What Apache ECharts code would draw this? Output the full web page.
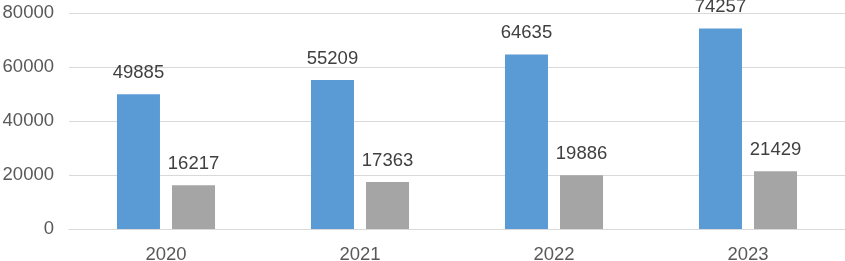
<!DOCTYPE html>
<html>
<head>
<meta charset="utf-8">
<script src="https://cdn.jsdelivr.net/npm/echarts@6/dist/echarts.min.js"></script>
<style>
html,body{margin:0;padding:0;background:#fff;}
#chart{width:845px;height:261px;}
</style>
</head>
<body>
<div id="chart"></div>
<script>
const categories = ['2020', '2021', '2022', '2023'];
const seriesA = [49885, 55209, 64635, 74257];
const seriesB = [16217, 17363, 19886, 21429];

const chart = echarts.init(document.getElementById('chart'), null, {renderer: 'canvas'});
const font = 'Liberation Sans, Arial, sans-serif';
const labelCfg = {
  show: true,
  position: 'top',
  distance: 12,
  color: '#404040',
  fontSize: 18.5,
  fontFamily: font
};
chart.setOption({
  animation: false,
  grid: {left: 69, right: 0, top: 13, bottom: 32, containLabel: false, outerBoundsMode: 'none'},
  xAxis: {
    type: 'category',
    data: categories,
    axisLine: {show: true, lineStyle: {color: '#D9D9D9', width: 1}},
    axisTick: {show: false},
    axisLabel: {color: '#595959', fontSize: 18.5, fontFamily: font, margin: 16}
  },
  yAxis: {
    type: 'value',
    min: 0,
    max: 80000,
    interval: 20000,
    axisLine: {show: false},
    axisTick: {show: false},
    axisLabel: {color: '#595959', fontSize: 18.5, fontFamily: font, margin: 15,
                formatter: function (v) { return String(v); }},
    splitLine: {show: true, lineStyle: {color: '#D9D9D9', width: 1}}
  },
  series: [
    {name: 'A', type: 'bar', data: seriesA, barWidth: 43, barGap: '28%',
     itemStyle: {color: '#5B9BD5'}, label: labelCfg},
    {name: 'B', type: 'bar', data: seriesB, barWidth: 43,
     itemStyle: {color: '#A5A5A5'}, label: labelCfg}
  ]
});
</script>
</body>
</html>
